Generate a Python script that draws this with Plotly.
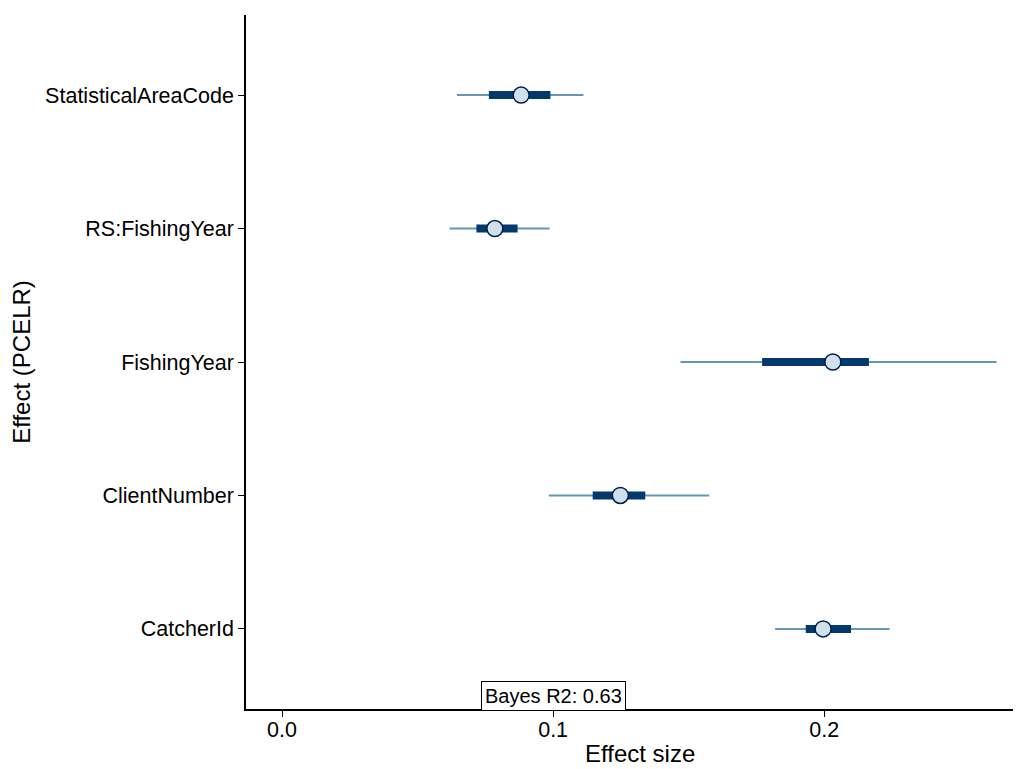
import plotly.graph_objects as go

effects = ["CatcherId", "ClientNumber", "FishingYear", "RS:FishingYear", "StatisticalAreaCode"]
point = [0.1996, 0.1248, 0.2032, 0.0785, 0.0882]
inner_lo = [0.1932, 0.1146, 0.1771, 0.0717, 0.0763]
inner_hi = [0.2099, 0.1340, 0.2165, 0.0869, 0.0990]
outer_lo = [0.1819, 0.0984, 0.1470, 0.0618, 0.0645]
outer_hi = [0.2241, 0.1576, 0.2636, 0.0987, 0.1112]
x_ticks = [0.0, 0.1, 0.2]
x_tick_labels = ["0.0", "0.1", "0.2"]
r2_label = "Bayes R2: 0.63"
x_title = "Effect size"
y_title = "Effect (PCELR)"

FONT = "Liberation Sans, Arial, Helvetica, sans-serif"

def seg(lo, hi, cats):
    xs, ys = [], []
    for a, b, c in zip(lo, hi, cats):
        xs += [a, b, None]
        ys += [c, c, None]
    return xs, ys

fig = go.Figure()
ox, oy = seg(outer_lo, outer_hi, effects)
fig.add_trace(go.Scatter(x=ox, y=oy, mode="lines",
                         line=dict(color="#6497b1", width=2), hoverinfo="skip", showlegend=False))
ix, iy = seg(inner_lo, inner_hi, effects)
fig.add_trace(go.Scatter(x=ix, y=iy, mode="lines",
                         line=dict(color="#03396c", width=8), hoverinfo="skip", showlegend=False))
fig.add_trace(go.Scatter(x=point, y=effects, mode="markers",
                         marker=dict(size=16, color="#d1e1ec", line=dict(color="#011f4b", width=1.5)),
                         showlegend=False))

fig.add_annotation(x=0.1, y=-0.5, xref="x", yref="y", text=r2_label, showarrow=False,
                   font=dict(family=FONT, size=20, color="black"),
                   bgcolor="white", bordercolor="black", borderwidth=1, borderpad=3)

fig.add_annotation(x=0.5104, y=-0.0648, xref="paper", yref="paper", text=x_title, showarrow=False,
                   xanchor="center", yanchor="middle",
                   font=dict(family=FONT, size=24, color="black"))

fig.update_layout(
    width=1010, height=758,
    margin=dict(l=238, r=0, t=7, b=57),
    plot_bgcolor="white", paper_bgcolor="white",
    font=dict(family=FONT, color="black"),
    xaxis=dict(range=[-0.0133, 0.2715], tickvals=x_ticks, ticktext=x_tick_labels,
               automargin=False, ticklabelstandoff=-6,
               showgrid=False, zeroline=False, showline=True, linecolor="black", linewidth=1.5,
               ticks="outside", ticklen=6, tickcolor="black", tickwidth=1.2,
               tickfont=dict(size=21.5, family=FONT, color="black")),
    yaxis=dict(type="category", categoryorder="array", categoryarray=effects, range=[-0.6, 4.6],
               automargin=False,
               showgrid=False, zeroline=False, showline=True, linecolor="black", linewidth=1.5,
               ticks="outside", ticklen=6, tickcolor="black", tickwidth=1.2,
               tickfont=dict(size=21.5, family=FONT, color="black"),
               title=dict(text=y_title, font=dict(size=24, family=FONT, color="black"), standoff=8)),
)

fig.write_html("out.html")
